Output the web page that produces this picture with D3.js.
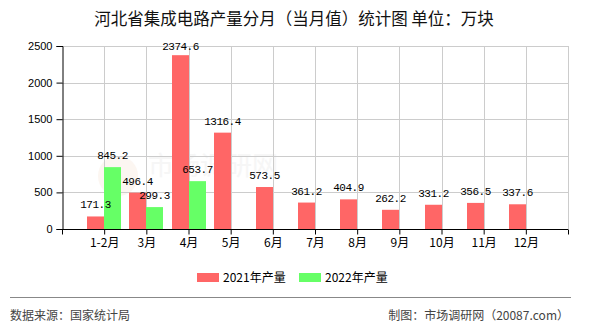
<!DOCTYPE html>
<html>
<head>
<meta charset="utf-8">
<script src="https://cdn.jsdelivr.net/npm/d3@7/dist/d3.min.js"></script>
<style>
  html, body { margin: 0; padding: 0; background: #fff; }
  svg { display: block; }
</style>
</head>
<body>
<svg id="chart" width="590" height="330"></svg>
<script>
// Monthly integrated circuit output, Hebei province (10k units)
const categories = ["1-2月", "3月", "4月", "5月", "6月", "7月", "8月", "9月", "10月", "11月", "12月"];
const output2021 = [171.3, 496.4, 2374.6, 1316.4, 573.5, 361.2, 404.9, 262.2, 331.2, 356.5, 337.6];
const output2022 = [845.2, 299.3, 653.7, null, null, null, null, null, null, null, null];
const seriesNames = ["2021年产量", "2022年产量"];
const yTicks = [0, 500, 1000, 1500, 2000, 2500];

const colors = ["#ff6666", "#66ff66"];
const cjk = "'Noto Sans CJK SC', 'Noto Sans', sans-serif";
const mono = "'Liberation Mono', 'DejaVu Sans Mono', monospace";

const svg = d3.select("#chart");
const plot = { left: 62, right: 568, top: 46, bottom: 229 };
const barW = 17;

const x = d3.scalePoint().domain(categories).range([plot.left, plot.right]).padding(1);
const y = d3.scaleLinear().domain([0, 2500]).range([plot.bottom, plot.top]);

// Title
svg.append("text")
  .attr("x", 294).attr("y", 25)
  .attr("text-anchor", "middle")
  .style("font-family", cjk).style("font-size", "16.5px").attr("fill", "#111")
  .text("河北省集成电路产量分月（当月值）统计图 单位：万块");

// Faint site mark behind the plot
const wm = svg.append("g").attr("opacity", 0.5);
wm.append("circle").attr("cx", 118).attr("cy", 176).attr("r", 20).attr("fill", "#fbeee4");
wm.append("text").attr("x", 148).attr("y", 175)
  .style("font-family", cjk).style("font-size", "26px").attr("fill", "#eeeeee")
  .text("市场调研网");

// Grid
const grid = svg.append("g").attr("stroke", "#cccccc").attr("stroke-width", 1);
grid.selectAll("line.h").data(yTicks.filter(d => d > 0)).join("line")
  .attr("x1", plot.left).attr("x2", plot.right)
  .attr("y1", d => Math.round(y(d)) + 0.5).attr("y2", d => Math.round(y(d)) + 0.5);
grid.selectAll("line.v").data(categories.map(c => x(c)).concat([plot.right])).join("line")
  .attr("x1", d => Math.round(d) + 0.5).attr("x2", d => Math.round(d) + 0.5)
  .attr("y1", plot.top).attr("y2", plot.bottom);

// Bars first, then all value labels on top
const series = [output2021, output2022];
const seriesData = series.map((vals, si) => ({
  si,
  xOff: si === 0 ? -barW : 0,
  points: categories.map((c, i) => ({ c, v: vals[i] })).filter(d => d.v != null)
}));

seriesData.forEach(s => {
  svg.append("g").selectAll("rect").data(s.points).join("rect")
    .attr("x", d => Math.round(x(d.c)) + s.xOff)
    .attr("y", d => y(d.v))
    .attr("width", barW)
    .attr("height", d => plot.bottom - y(d.v))
    .attr("fill", colors[s.si]);
});

seriesData.forEach(s => {
  svg.append("g").selectAll("text").data(s.points).join("text")
    .attr("x", d => Math.round(x(d.c)) + s.xOff + barW / 2)
    .attr("y", d => Math.max(y(d.v) - 8, 50))
    .attr("text-anchor", "middle")
    .style("font-family", mono).style("font-size", "11px").style("letter-spacing", "-0.5px")
    .attr("fill", "#000")
    .text(d => d.v.toFixed(1));
});

// Y axis
const yAxis = d3.axisLeft(y).tickValues(yTicks).tickSize(6).tickPadding(4).tickFormat(d3.format("d"));
const gy = svg.append("g").attr("transform", `translate(${plot.left + 0.5},0)`).call(yAxis);
gy.select(".domain").attr("stroke", "#000");
gy.selectAll(".tick line").attr("stroke", "#000");
gy.selectAll(".tick text").style("font-family", "'Liberation Sans', Arial, sans-serif").style("font-size", "11px").attr("fill", "#000");

// X axis
const xAxis = d3.axisBottom(x).tickSize(5).tickPadding(4);
const gx = svg.append("g").attr("transform", `translate(0,${plot.bottom + 0.5})`).call(xAxis);
gx.select(".domain").attr("d", `M${plot.left},0H${plot.right}`).attr("stroke", "#000");
gx.selectAll(".tick line").attr("stroke", "#000");
gx.selectAll(".tick text").style("font-family", cjk).style("font-size", "12px").attr("fill", "#000");
[plot.left, plot.right].forEach(px => gx.append("line")
  .attr("x1", px + 0.5).attr("x2", px + 0.5).attr("y1", 0).attr("y2", 5).attr("stroke", "#000"));

// Legend
const legendX = [197, 299];
seriesNames.forEach((name, i) => {
  const g = svg.append("g").attr("transform", `translate(${legendX[i]},273)`);
  g.append("rect").attr("width", 22).attr("height", 9).attr("fill", colors[i]);
  g.append("text").attr("x", 26).attr("y", 9)
    .style("font-family", cjk).style("font-size", "12px").attr("fill", "#000")
    .text(name);
});

// Footer
svg.append("line").attr("x1", 10).attr("x2", 571).attr("y1", 297.5).attr("y2", 297.5)
  .attr("stroke", "#888").attr("stroke-width", 1);
svg.append("text").attr("x", 10).attr("y", 320)
  .style("font-family", cjk).style("font-size", "12px").attr("fill", "#444")
  .text("数据来源：国家统计局");
svg.append("text").attr("x", 569).attr("y", 320).attr("text-anchor", "end")
  .style("font-family", cjk).style("font-size", "12px").attr("fill", "#444")
  .text("制图：市场调研网（20087.com）");
</script>
</body>
</html>
